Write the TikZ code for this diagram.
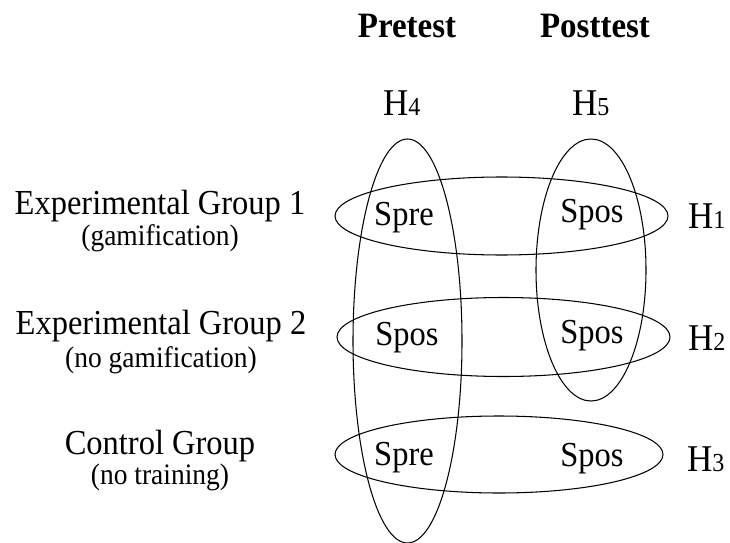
\documentclass[tikz,border=0pt]{standalone}
\usepackage{fontspec}
\setmainfont{Liberation Serif}
\newcommand{\tall}[1]{\scalebox{1}[1.08]{#1}}
\begin{document}
\begin{tikzpicture}[x=1pt,y=1pt,
  txt/.style={anchor=base,inner sep=0pt,font=\fontsize{32.5}{38}\selectfont},
  sub/.style={anchor=base,inner sep=0pt,font=\fontsize{27.5}{32}\selectfont},
  head/.style={anchor=base,inner sep=0pt,font=\fontsize{33}{38}\selectfont\bfseries},
  hyp/.style={anchor=base west,inner sep=0pt,font=\fontsize{35}{40}\selectfont},
  ring/.style={draw=black,line width=1.05pt}]
\useasboundingbox (0,0) rectangle (730,542);
% headings
\node[head] (pre) at (407,504) {\tall{Pretest}};
\node[head] (post) at (595,504) {\tall{Posttest}};
% hypotheses
\newcommand{\hyplabel}[1]{\tall{H{\fontsize{24}{28}\selectfont #1}}}
\node[hyp] (h4) at (383,427) {\hyplabel{4}};
\node[hyp] (h5) at (572,427) {\hyplabel{5}};
\node[hyp] (h1) at (688,314) {\hyplabel{1}};
\node[hyp] (h2) at (688,192) {\hyplabel{2}};
\node[hyp] (h3) at (687,71) {\hyplabel{3}};
% groups
\node[txt] (g1) at (160,328) {\tall{Experimental Group 1}};
\node[sub] (g1s) at (160,297) {\tall{(gamification)}};
\node[txt] (g2) at (161,208) {\tall{Experimental Group 2}};
\node[sub] (g2s) at (161,175) {\tall{(no gamification)}};
\node[txt] (g3) at (160,88) {\tall{Control Group}};
\node[sub] (g3s) at (160,58) {\tall{(no training)}};
% cells
\node[txt] (c11) at (404,317) {\tall{Spre}};
\node[txt] (c12) at (592,320) {\tall{Spos}};
\node[txt] (c21) at (407,197) {\tall{Spos}};
\node[txt] (c22) at (592,199) {\tall{Spos}};
\node[txt] (c31) at (404,77) {\tall{Spre}};
\node[txt] (c32) at (592,76) {\tall{Spos}};
% ellipses
\draw[ring] (501.5,326) ellipse [x radius=166.5, y radius=39];
\draw[ring] (503.5,205) ellipse [x radius=166.5, y radius=39.5];
\draw[ring] (499,87.5) ellipse [x radius=164, y radius=38.5];
\draw[ring] (407.5,201) ellipse [x radius=54.5, y radius=202];
\draw[ring] (591,272) ellipse [x radius=55, y radius=131];
\end{tikzpicture}
\end{document}
